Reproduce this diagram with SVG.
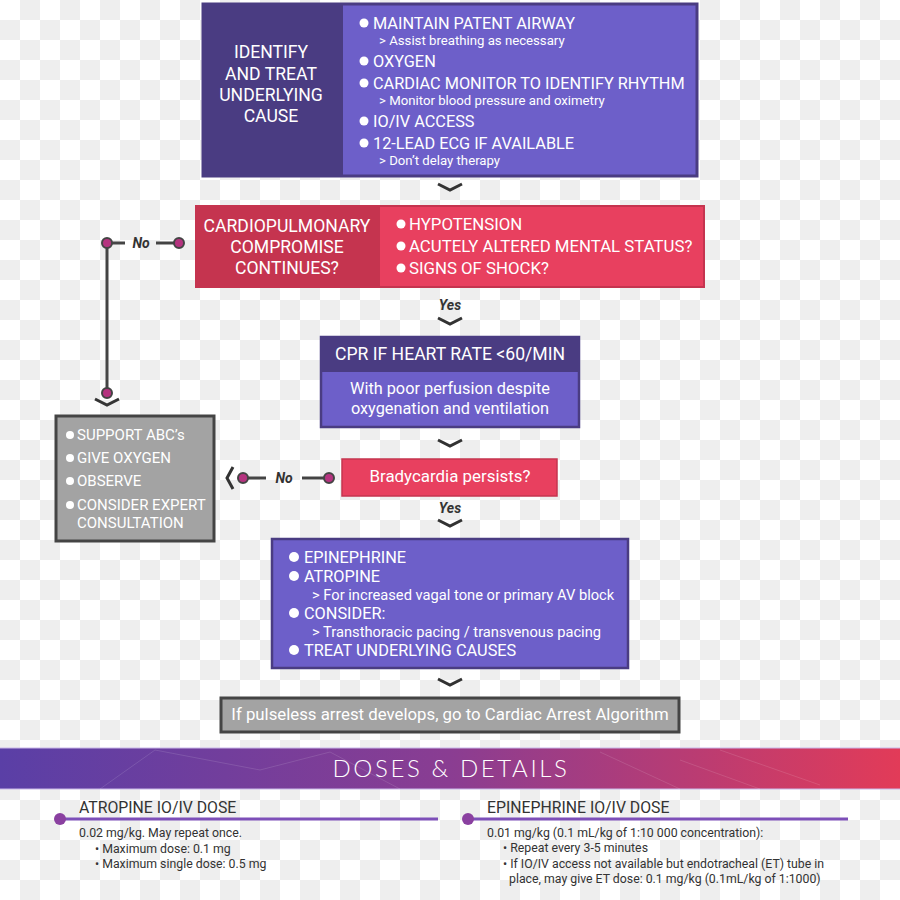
<svg xmlns="http://www.w3.org/2000/svg" width="900" height="900" viewBox="0 0 900 900">
<defs>
<pattern id="chk" width="40" height="40" patternUnits="userSpaceOnUse">
<rect width="40" height="40" fill="#ffffff"/>
<rect x="20" y="0" width="20" height="20" fill="#eeeeee"/>
<rect x="0" y="20" width="20" height="20" fill="#eeeeee"/>
</pattern>
<linearGradient id="band" x1="0" y1="0" x2="1" y2="0">
<stop offset="0" stop-color="#5a3fa6"/>
<stop offset="0.5" stop-color="#8a3d92"/>
<stop offset="1" stop-color="#e23b58"/>
</linearGradient>
</defs>
<style>
text{font-family:Roboto,"Liberation Sans",sans-serif;fill:#ffffff}
.h{font-size:17.6px}
.b{font-size:16.3px}
.s{font-size:13.2px}
.m{font-size:14.7px}
.g{font-size:15px}
.lbl{font-size:14px;font-style:italic;font-weight:bold;fill:#333333}
.dk{fill:#333333}
.d{font-size:12.3px}
.dh{font-size:15.8px}
.ln{stroke:#444444;stroke-width:3;fill:none}
.chev{stroke:#333333;stroke-width:3;fill:none}
.dot{fill:#b5337f;stroke:#444444;stroke-width:2}
</style>
<rect width="900" height="900" fill="url(#chk)"/>

<g id="identify">
<rect x="203" y="4" width="494" height="172" fill="#6d5fc9" stroke="#4a3c82" stroke-width="3"/>
<rect x="203" y="4" width="140" height="172" fill="#4a3c82"/>
<text class="h" x="271" y="58" text-anchor="middle">IDENTIFY</text>
<text class="h" x="271" y="80" text-anchor="middle">AND TREAT</text>
<text class="h" x="271" y="101" text-anchor="middle">UNDERLYING</text>
<text class="h" x="271" y="122" text-anchor="middle">CAUSE</text>
<circle cx="364" cy="23" r="4.5" fill="#fff"/>
<text class="b" x="373" y="29">MAINTAIN PATENT AIRWAY</text>
<text class="s" x="379" y="45">&gt; Assist breathing as necessary</text>
<circle cx="364" cy="61" r="4.5" fill="#fff"/>
<text class="b" x="373" y="67">OXYGEN</text>
<circle cx="364" cy="83" r="4.5" fill="#fff"/>
<text class="b" x="373" y="89">CARDIAC MONITOR TO IDENTIFY RHYTHM</text>
<text class="s" x="379" y="105">&gt; Monitor blood pressure and oximetry</text>
<circle cx="364" cy="121" r="4.5" fill="#fff"/>
<text class="b" x="373" y="127">IO/IV ACCESS</text>
<circle cx="364" cy="143" r="4.5" fill="#fff"/>
<text class="b" x="373" y="149">12-LEAD ECG IF AVAILABLE</text>
<text class="s" x="379" y="165">&gt; Don’t delay therapy</text>
</g>

<g id="compromise">
<rect x="196" y="206" width="508" height="81" fill="#e8405f" stroke="#c5344f" stroke-width="2"/>
<rect x="196" y="206" width="184" height="81" fill="#c5344f"/>
<text class="h" x="287" y="232" text-anchor="middle">CARDIOPULMONARY</text>
<text class="h" x="287" y="253" text-anchor="middle">COMPROMISE</text>
<text class="h" x="287" y="274" text-anchor="middle">CONTINUES?</text>
<circle cx="401" cy="224" r="4.5" fill="#fff"/>
<text class="b" x="409" y="230" style="font-size:16.8px">HYPOTENSION</text>
<circle cx="401" cy="246" r="4.5" fill="#fff"/>
<text class="b" x="409" y="252" style="font-size:16.8px">ACUTELY ALTERED MENTAL STATUS?</text>
<circle cx="401" cy="268" r="4.5" fill="#fff"/>
<text class="b" x="409" y="274" style="font-size:16.8px">SIGNS OF SHOCK?</text>
</g>

<g id="cpr">
<rect x="321" y="337" width="258" height="90" fill="#6d5fc9" stroke="#4a3c82" stroke-width="2.5"/>
<rect x="321" y="337" width="258" height="35" fill="#4a3c82"/>
<text x="450" y="360" text-anchor="middle" style="font-size:17.6px">CPR IF HEART RATE &lt;60/MIN</text>
<text class="b" x="450" y="394" text-anchor="middle">With poor perfusion despite</text>
<text class="b" x="450" y="414" text-anchor="middle">oxygenation and ventilation</text>
</g>

<g id="bradycardia">
<rect x="342" y="459" width="215" height="37" fill="#e8405f" stroke="#c5344f" stroke-width="1.5"/>
<text x="450" y="482" text-anchor="middle" style="font-size:16.9px">Bradycardia persists?</text>
</g>

<g id="support">
<rect x="56" y="416" width="158" height="125" fill="#a3a3a3" stroke="#444444" stroke-width="3"/>
<circle cx="70" cy="435" r="4" fill="#fff"/>
<text class="g" x="77" y="440">SUPPORT ABC’s</text>
<circle cx="70" cy="458" r="4" fill="#fff"/>
<text class="g" x="77" y="463">GIVE OXYGEN</text>
<circle cx="70" cy="481" r="4" fill="#fff"/>
<text class="g" x="77" y="486">OBSERVE</text>
<circle cx="70" cy="505" r="4" fill="#fff"/>
<text class="g" x="77" y="510">CONSIDER EXPERT</text>
<text class="g" x="77" y="528">CONSULTATION</text>
</g>

<g id="treatment">
<rect x="272" y="539" width="356" height="129" fill="#6d5fc9" stroke="#4a3c82" stroke-width="2.5"/>
<circle cx="294" cy="557" r="5" fill="#fff"/>
<text class="b" x="304" y="563">EPINEPHRINE</text>
<circle cx="294" cy="576" r="5" fill="#fff"/>
<text class="b" x="304" y="582">ATROPINE</text>
<text class="m" x="312" y="600">&gt; For increased vagal tone or primary AV block</text>
<circle cx="294" cy="613" r="5" fill="#fff"/>
<text class="b" x="304" y="619">CONSIDER:</text>
<text class="m" x="312" y="637">&gt; Transthoracic pacing / transvenous pacing</text>
<circle cx="294" cy="650" r="5" fill="#fff"/>
<text class="b" x="304" y="656">TREAT UNDERLYING CAUSES</text>
</g>

<g id="pulseless">
<rect x="221" y="698" width="458" height="34" fill="#a3a3a3" stroke="#444444" stroke-width="3"/>
<text x="450" y="720" text-anchor="middle" style="font-size:16.8px">If pulseless arrest develops, go to Cardiac Arrest Algorithm</text>
</g>

<g id="connectors">
<polyline class="chev" points="438,184 450,190 462,184"/>
<text class="lbl" x="450" y="310" text-anchor="middle">Yes</text>
<polyline class="chev" points="438,318 450,324 462,318"/>
<polyline class="chev" points="438,440 450,446 462,440"/>
<text class="lbl" x="450" y="513" text-anchor="middle">Yes</text>
<polyline class="chev" points="438,520 450,526 462,520"/>
<polyline class="chev" points="438,679 450,685 462,679"/>
<line class="ln" x1="107" y1="243" x2="125" y2="243"/>
<line class="ln" x1="156" y1="243" x2="179" y2="243"/>
<text class="lbl" x="141" y="248" text-anchor="middle">No</text>
<line class="ln" x1="107" y1="243" x2="107" y2="393"/>
<circle class="dot" cx="107" cy="243" r="5"/>
<circle class="dot" cx="179" cy="243" r="5"/>
<circle class="dot" cx="107" cy="393" r="5"/>
<polyline class="chev" points="95,399 107,405 119,399"/>
<line class="ln" x1="243" y1="478" x2="266" y2="478"/>
<line class="ln" x1="302" y1="478" x2="329" y2="478"/>
<text class="lbl" x="284" y="483" text-anchor="middle">No</text>
<circle class="dot" cx="243" cy="478" r="5"/>
<circle class="dot" cx="329" cy="478" r="5"/>
<polyline class="chev" points="233,467 227,478 233,489"/>
</g>

<g id="doses">
<rect x="0" y="748" width="900" height="41" fill="url(#band)"/>
<line x1="0" y1="748" x2="900" y2="748" stroke="#c9b8e8" stroke-width="1"/>
<line x1="0" y1="789" x2="900" y2="789" stroke="#c9b8e8" stroke-width="1"/>
<g stroke="#ffffff" stroke-opacity="0.12" stroke-width="1">
<line x1="155" y1="750" x2="100" y2="789"/>
<line x1="155" y1="750" x2="260" y2="770"/>
<line x1="260" y1="770" x2="330" y2="752"/>
<line x1="330" y1="752" x2="400" y2="789"/>
<line x1="600" y1="752" x2="680" y2="789"/>
<line x1="680" y1="760" x2="760" y2="789"/>
<line x1="720" y1="750" x2="820" y2="785"/>
</g>
<text x="451" y="777" text-anchor="middle" style="font-family:Lato,'Open Sans',sans-serif;font-weight:300;font-size:24px;letter-spacing:2.6px">DOSES &amp; DETAILS</text>
</g>

<g id="atropine">
<line x1="60" y1="819" x2="438" y2="819" stroke="#7d4fb8" stroke-width="3"/>
<circle cx="60" cy="819" r="6" fill="#8a40a0"/>
<text class="dk dh" x="79" y="813">ATROPINE IO/IV DOSE</text>
<text class="dk d" x="79" y="837">0.02 mg/kg. May repeat once.</text>
<text class="dk d" x="95" y="853">• Maximum dose: 0.1 mg</text>
<text class="dk d" x="95" y="868">• Maximum single dose: 0.5 mg</text>
</g>

<g id="epinephrine">
<line x1="468" y1="819" x2="848" y2="819" stroke="#7d4fb8" stroke-width="3"/>
<circle cx="468" cy="819" r="6" fill="#8a40a0"/>
<text class="dk dh" x="487" y="813">EPINEPHRINE IO/IV DOSE</text>
<text class="dk d" x="487" y="837">0.01 mg/kg (0.1 mL/kg of 1:10 000 concentration):</text>
<text class="dk d" x="503" y="852">• Repeat every 3-5 minutes</text>
<text class="dk d" x="503" y="868">• If IO/IV access not available but endotracheal (ET) tube in</text>
<text class="dk d" x="509" y="883">place, may give ET dose: 0.1 mg/kg (0.1mL/kg of 1:1000)</text>
</g>
</svg>
